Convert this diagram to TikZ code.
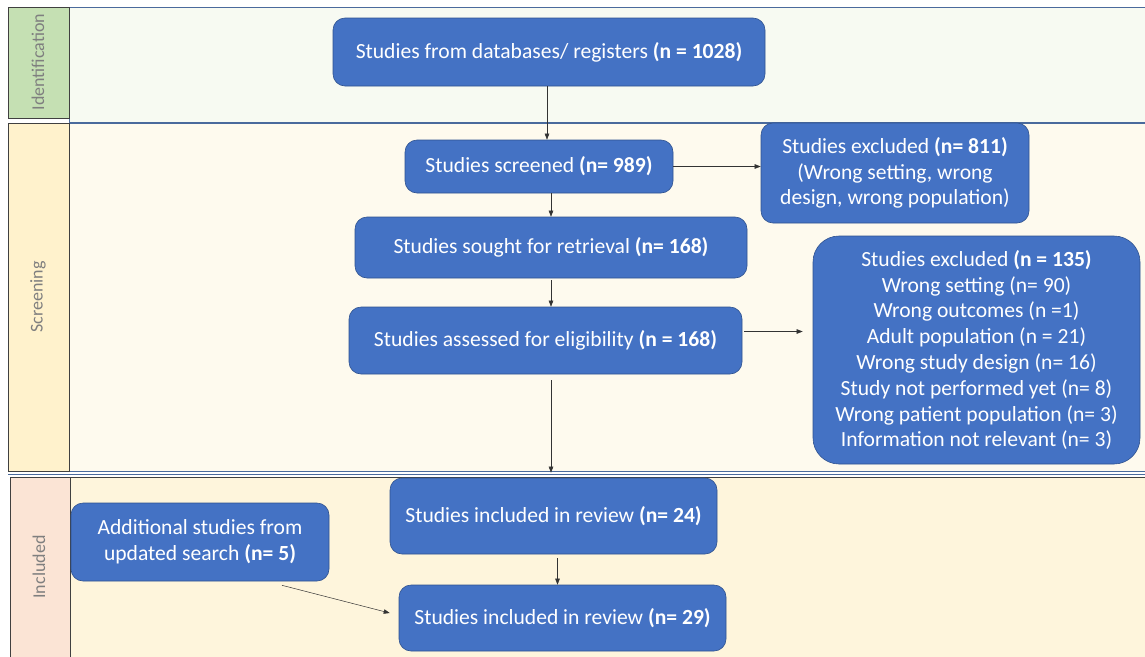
\documentclass[tikz,border=0pt]{standalone}
\usepackage{fontspec}
\setmainfont{Carlito}
\usetikzlibrary{arrows.meta}
\definecolor{boxblue}{HTML}{4472C4}
\definecolor{boxline}{HTML}{2F528F}
\definecolor{idlab}{HTML}{C5E0B3}
\definecolor{sclab}{HTML}{FFF2CC}
\definecolor{inlab}{HTML}{FBE4D5}
\definecolor{idbg}{HTML}{F7FAF2}
\definecolor{scbg}{HTML}{FEFAEE}
\definecolor{inbg}{HTML}{FEF5DC}
\definecolor{bandline}{HTML}{4A6A9C}
\definecolor{labtext}{HTML}{7F7F7F}
\begin{document}
\begin{tikzpicture}[x=1pt,y=-1pt,
  box/.style={draw=boxline, line width=0.6pt, fill=boxblue, rounded corners=12pt, text=white, align=center,
    font=\fontsize{21.6}{25.8}\selectfont, inner sep=0pt},
  lab/.style={rotate=90, text=labtext, font=\fontsize{18}{20}\selectfont},
  labbox/.style={draw=black!75, line width=0.9pt},
  arr/.style={-{Triangle[length=6pt,width=4.5pt]}, line width=0.5pt, draw=black!80}]
\useasboundingbox (0,0) rectangle (1145,656);
% bands
\fill[white] (0,0) rectangle (1145,656);
\draw[fill=idbg, draw=bandline, line width=0.6pt] (69,7) rectangle (1146,122);
\draw[fill=scbg, draw=bandline, line width=0.6pt] (69,123) rectangle (1146,471);
\draw[bandline, line width=0.6pt] (8,474) -- (1145,474);
\draw[fill=inbg, draw=black!75, line width=0.8pt] (70,477) rectangle (1146,657);
\draw[labbox, fill=idlab] (8,7) rectangle (69,118);
\draw[labbox, fill=sclab] (8,123) rectangle (69,471);
\draw[labbox, fill=inlab] (10,477) rectangle (70,657);
\node[lab] (lid) at (38,62) {Identification};
\node[lab] (lsc) at (38,297) {Screening};
\node[lab] (lin) at (39,567) {Included};
% boxes
\node[box, minimum width=432pt, minimum height=68pt] (A) at (549,52) {Studies from databases/ registers \textbf{(n = 1028)}};
\node[box, minimum width=268pt, minimum height=53pt] (B) at (539,166.5) {Studies screened \textbf{(n= 989)}};
\node[box, minimum width=268pt, minimum height=100pt] (C) at (895,173) {Studies excluded \textbf{(n= 811)}\\(Wrong setting, wrong\\design, wrong population)};
\node[box, minimum width=392pt, minimum height=61pt] (D) at (551,247.5) {Studies sought for retrieval \textbf{(n= 168)}};
\node[box, minimum width=393pt, minimum height=67pt] (E) at (545.5,340.5) {Studies assessed for eligibility \textbf{(n = 168)}};
\node[box, rounded corners=26pt, minimum width=327pt, minimum height=228pt] (F) at (976.5,350) {Studies excluded \textbf{(n = 135)}\\Wrong setting (n= 90)\\Wrong outcomes (n =1)\\Adult population (n = 21)\\Wrong study design (n= 16)\\Study not performed yet (n= 8)\\Wrong patient population (n= 3)\\Information not relevant (n= 3)};
\node[box, minimum width=327pt, minimum height=76pt] (G) at (553.5,516) {Studies included in review \textbf{(n= 24)}};
\node[box, minimum width=327pt, minimum height=66pt] (H) at (562.5,618) {Studies included in review \textbf{(n= 29)}};
\node[box, minimum width=258pt, minimum height=78pt] (I) at (200,542) {Additional studies from\\updated search \textbf{(n= 5)}};
% connectors
\draw[arr] ([xshift=-2pt]A.south) -- ([xshift=-2pt]A.south |- B.north);
\draw[arr] (B.east) -- (B.east -| C.west);
\draw[arr] (B.south -| D.north) -- (D.north);
\draw[arr, shorten <=2pt] (D.south) -- (D.south |- E.north);
\draw[arr, shorten <=2pt, shorten >=10pt] ([yshift=9pt]E.east) -- ([yshift=9pt]E.east -| F.west);
\draw[arr, shorten <=6pt, shorten >=5pt] (E.south -| D.south) -- (D.south |- G.north);
\draw[arr, shorten <=4pt] ([xshift=4pt]G.south) -- ([xshift=4pt]G.south |- H.north);
\draw[arr] ([xshift=82pt,yshift=-4pt]I.south) -- ([xshift=-9pt,yshift=5pt]H.west);
\end{tikzpicture}
\end{document}
